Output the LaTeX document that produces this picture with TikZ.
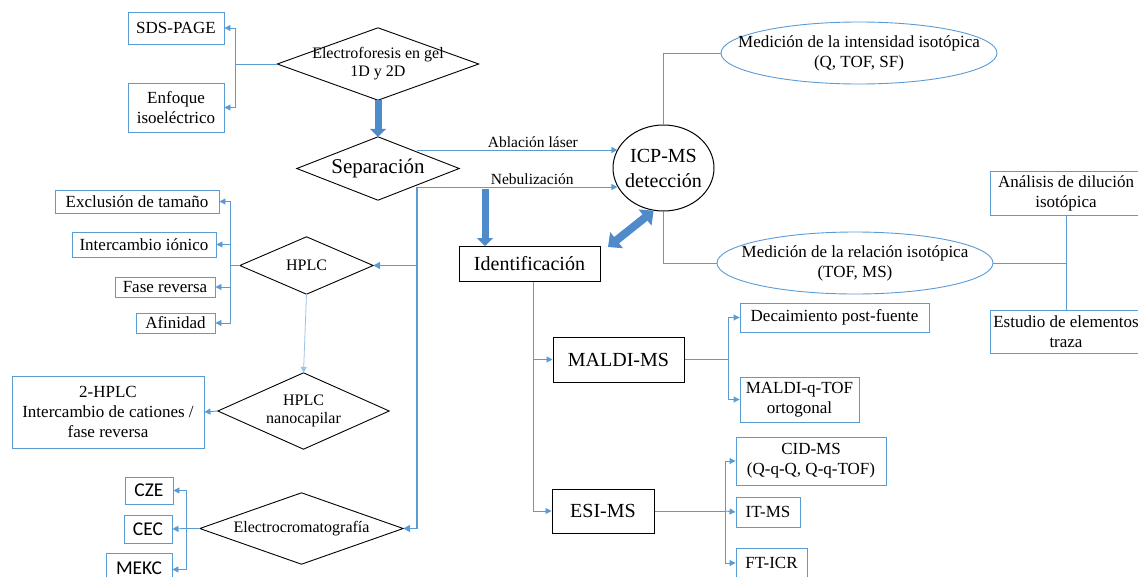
\documentclass[tikz,border=0pt]{standalone}
\usepackage{fontspec}
\setmainfont{Liberation Serif}
\newfontfamily\calfont{Carlito}
\usetikzlibrary{arrows.meta,calc,shapes.geometric}
\definecolor{lblue}{HTML}{5B9BD5}
\definecolor{fblue}{HTML}{4F8ACB}
\definecolor{pblue}{HTML}{9DC3E6}
\begin{document}
\begin{tikzpicture}[x=1pt,y=-1pt,
  sz/.style 2 args={minimum width=#1pt, minimum height=#2pt},
  bbox/.style={draw=lblue, line width=0.9pt, inner sep=0pt, align=center, font=\fontsize{17}{20}\selectfont},
  cbox/.style={draw=lblue, line width=0.9pt, inner sep=0pt, align=center, font=\calfont\fontsize{19.5}{22}\selectfont},
  kbox/.style={draw=black, line width=1pt, inner sep=0pt, align=center, font=\fontsize{20}{25}\selectfont},
  dia/.style={inner sep=0pt, align=center, font=\fontsize{16}{18}\selectfont},
  ell/.style={ellipse, draw=lblue, line width=0.9pt, inner xsep=-25pt, inner ysep=0pt, align=center, font=\fontsize{17}{20}\selectfont},
  ln/.style={draw=lblue, line width=0.9pt},
  vln/.style={draw=lblue, line width=1.6pt},
  ar/.style={ln, -{Triangle[length=6pt,width=6pt]}},
  var/.style={vln, -{Triangle[length=7pt,width=7pt]}},
  fat/.style={draw=fblue, line width=7pt, -{Triangle[length=8pt,width=16pt]}},
  dfat/.style={draw=fblue, line width=8pt, {Triangle[length=11pt,width=20pt]}-{Triangle[length=11pt,width=20pt]}},
  lab/.style={font=\fontsize{15.5}{18}\selectfont, inner sep=1.5pt}
]
\useasboundingbox (0,0) rectangle (1138,576);
\clip (0,0) rectangle (1138,576);

% left top
\node[bbox, sz={96}{32}] (sds) at (176,28) {SDS-PAGE};
\node[bbox, sz={96}{49}] (enf) at (176,107.5) {Enfoque\\isoeléctrico};
\node[dia, sz={201}{72}] (elec) at (378,64) {Electroforesis en gel\\1D y 2D};
\node[dia, sz={162}{63}, font=\fontsize{21}{24}\selectfont] (sep) at (378,168.5) {Separación};

% HPLC group
\node[bbox, sz={164}{23}] (excl) at (137,201.5) {Exclusión de tamaño};
\node[bbox, sz={144}{25}] (inter) at (144,244.5) {Intercambio iónico};
\node[bbox, sz={100}{20}] (fase) at (165,287) {Fase reversa};
\node[bbox, sz={79}{20}] (afin) at (175.5,323) {Afinidad};
\node[dia, sz={133}{57}] (hplc) at (306.5,265.5) {HPLC};
\node[dia, sz={171}{76}] (nano) at (303.5,411) {HPLC\\nanocapilar};
\node[bbox, sz={192}{72}] (hplc2) at (108,412) {2-HPLC\\Intercambio de cationes /\\fase reversa};

% electrocromatografia group
\node[dia, sz={203}{71}] (ecro) at (301.5,528.5) {Electrocromatografía};
\node[cbox, sz={48}{27}] (cze) at (149,490.5) {CZE};
\node[cbox, sz={48}{28}] (cec) at (148,529) {CEC};
\node[cbox, sz={66}{30}, anchor=north] (mekc) at (139,553) {MEKC};

% centre
\node[kbox, sz={141}{35}] (ident) at (529.5,264) {Identificación};
\node[ellipse, draw=black, line width=1pt, inner xsep=-4pt, inner ysep=0pt, sz={101}{86}, align=center, font=\fontsize{20}{25}\selectfont] (icp) at (663.5,168) {ICP-MS\\detección};
\node[ell, sz={276}{62}] (med1) at (859,53) {Medición de la intensidad isotópica\\(Q, TOF, SF)};
\node[ell, sz={276}{62}] (med2) at (855,263) {Medición de la relación isotópica\\(TOF, MS)};
\node[bbox, sz={152}{44}] (anal) at (1066,193) {Análisis de dilución\\isotópica};
\node[bbox, sz={152}{43}] (estu) at (1066,331.5) {Estudio de elementos\\traza};

% MS
\node[kbox, sz={131}{45}] (maldi) at (618.5,359.5) {MALDI-MS};
\node[kbox, sz={102}{44}] (esi) at (603,511) {ESI-MS};
\node[bbox, sz={189}{29}] (deca) at (834.5,317.5) {Decaimiento post-fuente};
\node[bbox, sz={119}{45}] (mqtof) at (799.5,399.5) {MALDI-q-TOF\\ortogonal};
\node[bbox, sz={150}{48}] (cid) at (811,461) {CID-MS\\(Q-q-Q, Q-q-TOF)};
\node[bbox, sz={64}{30}] (itms) at (768,512) {IT-MS};
\node[bbox, sz={71}{30}] (fticr) at (771.5,563) {FT-ICR};

% diamonds outlines
\foreach \n in {elec,sep,hplc,nano,ecro}
  \draw[black, line width=0.9pt] (\n.north) -- (\n.east) -- (\n.south) -- (\n.west) -- cycle;

% junction coordinates
\coordinate (j1) at (235,64);
\coordinate (j4) at (230,265.5);
\coordinate (j5) at (186,528.5);
\coordinate (sa) at (417,150);
\coordinate (sn) at (417,187);
\coordinate (fa) at (485,189);
\coordinate (dA) at (608,247);
\coordinate (iv) at (533,281.5);
\coordinate (j2) at (728,359.5);
\coordinate (j3) at (725,511);

% electroforesis bracket
\draw[ln] (elec.west) -- (j1);
\draw[ar] (j1) |- (sds.east);
\draw[ar] (j1) |- (enf.east);
\draw[fat] (elec.south) -- (sep.north);

% separation lines
\draw[ar] (sa) -- node[lab, above, pos=0.578] {Ablación láser} (sa -| icp.158);
\draw[ar] (sn) -- node[lab, above, pos=0.575] {Nebulización} (sn -| icp.202);
\draw[var] (sn) |- (ecro.east);
\draw[var] (sn |- hplc.east) -- (hplc.east);
\draw[fat] (fa) -- (fa |- ident.north);
\draw[dfat] (dA) -- (icp.257);

% HPLC bracket
\draw[ln] (hplc.west) -- (j4);
\draw[ar] (j4) |- (excl.east);
\draw[ar] (j4) |- (inter.east);
\draw[ar] (j4) |- (fase.east);
\draw[ar] (j4) |- (afin.east);
\draw[draw=pblue, line width=0.8pt, -{Triangle[length=6pt,width=6pt]}] (hplc.south) -- (nano.north);
\draw[ar] (nano.west) -- (hplc2.east);

% electrocromatografia bracket
\draw[ln] (ecro.west) -- (j5);
\draw[ar] (j5) |- (cze.east);
\draw[ar] (j5) -- (cec.east);
\draw[ar] (j5) |- ([yshift=-1pt]mekc.east);

% ICP branches
\draw[ln] (icp.north) |- (med1.west);
\draw[ln] (icp.south) |- (med2.west);
\draw[ln] (med2.east) -- (med2.east -| anal.south);
\draw[ln] (anal.south) -- (estu.north);

% identification branches
\draw[ar] (iv) |- (maldi.west);
\draw[ar] (iv) |- (esi.west);
\draw[ln] (maldi.east) -- (j2);
\draw[ar] (j2) |- (deca.west);
\draw[ar] (j2) |- (mqtof.west);
\draw[ln] (esi.east) -- (j3);
\draw[ar] (j3) |- (cid.west);
\draw[ar] (j3) -- (itms.west);
\draw[ar] (j3) |- (fticr.west);
\end{tikzpicture}
\end{document}
